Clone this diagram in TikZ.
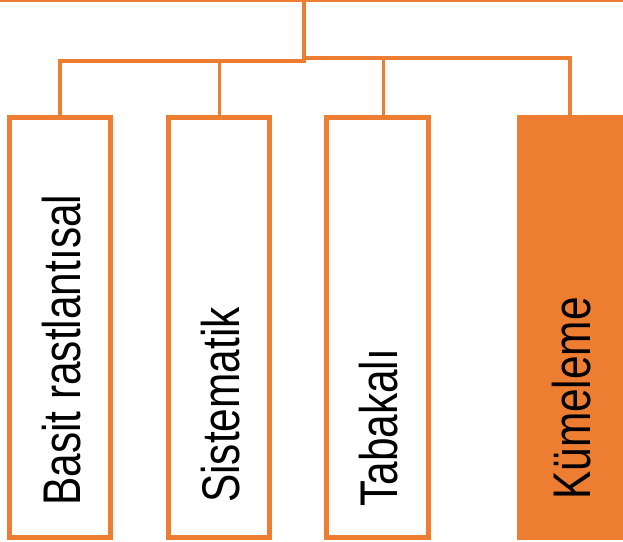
\documentclass[tikz,border=0pt]{standalone}
\usepackage{fontspec}
\newfontfamily\lsans{Liberation Sans}
\usetikzlibrary{calc}
\definecolor{orng}{HTML}{ED7D31}
\tikzset{
  box/.style={draw=orng, line width=5pt, fill=white, rectangle, inner sep=0pt,
              minimum width=101.6pt, minimum height=420pt},
  boxfill/.style={box, fill=orng},
  conn/.style={draw=orng, line width=3.6pt},
  topline/.style={draw=orng, line width=1.6pt},
  lbl/.style={rotate=90, anchor=base west, inner sep=0pt, text=black,
              font=\lsans\fontsize{53}{60}\selectfont}
}
\newcommand{\nar}[1]{\scalebox{0.8}[1]{#1}}
\begin{document}
\begin{tikzpicture}[x=1pt,y=-1pt]
\useasboundingbox (0,0) rectangle (623,541);
% boxes
\node[box] (b1) at (60,327.5) {};
\node[box] (b2) at (219,327.5) {};
\node[box] (b3) at (377.7,327.5) {};
\node[boxfill] (b4) at (570,327.5) {};
% labels
\node[lbl] (t1) at (80,506) {\nar{Basit rastlantısal}};
\node[lbl] (t2) at (239,503) {\nar{Sistematik}};
\node[lbl] (t3) at (397.5,507) {\nar{Tabakalı}};
\node[lbl] (t4) at (590,500) {\nar{Kümeleme}};
% connector points
\coordinate (tl) at (0,1);
\coordinate (tr) at (623,1);
\coordinate (root) at (304,0);
\coordinate (jr) at (304,58);
\coordinate (jl) at (305.8,61);
\coordinate (m2) at (219.5,61);
\coordinate (m3) at (383.6,58);
% connectors
\draw[topline] (tl) -- (tr);
\draw[conn] (root) -- ($(jr)+(0,2)$);
\draw[conn] (jl) -| (b1.north);
\draw[conn] (m2) -- (m2 |- b2.north);
\draw[conn] (jr) -| (b4.north);
\draw[conn] (m3) -- (m3 |- b3.north);
\end{tikzpicture}
\end{document}
